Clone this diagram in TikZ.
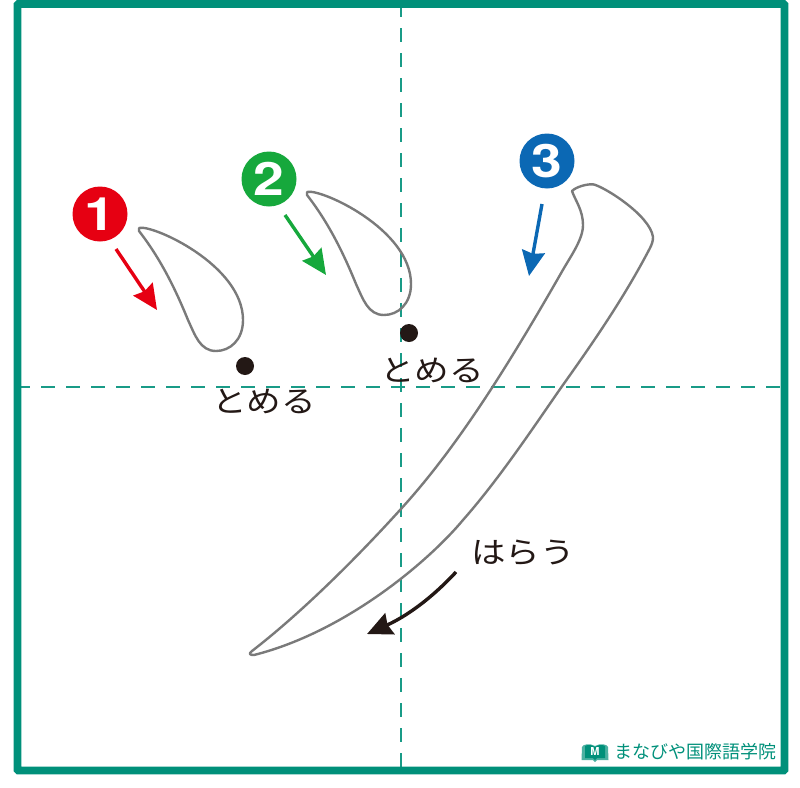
\documentclass[tikz,border=0pt]{standalone}
\usepackage{fontspec}
\newfontfamily\jpfont{Noto Sans CJK JP}
\newfontfamily\numfont{TeX Gyre Heros}
\definecolor{frameteal}{HTML}{00907A}
\definecolor{numred}{HTML}{E60012}
\definecolor{numgreen}{HTML}{16A83C}
\definecolor{numblue}{HTML}{0B68B4}
\definecolor{inkblack}{HTML}{231815}
\usetikzlibrary{arrows.meta,positioning}
\tikzstyle{guide}=[frameteal!90!white,line width=2.5pt,dash pattern=on 14pt off 11pt]
\tikzstyle{stroke}=[draw=black!52,line width=2.4pt,line join=round]
\tikzstyle{num}=[circle,minimum size=55pt,inner sep=0pt,text=white,font=\numfont\bfseries\fontsize{46}{46}\selectfont]
\tikzstyle{dot}=[circle,fill=inkblack,minimum size=18pt,inner sep=0pt]
\tikzstyle{word}=[text=inkblack,inner sep=0pt,font=\jpfont\fontsize{30}{30}\selectfont]
\tikzstyle{arrow}=[line width=3.4pt,-{Stealth[length=25pt,width=23pt,inset=2.5pt]}]

\begin{document}
\begin{tikzpicture}[x=1pt,y=-1pt]
    \useasboundingbox (0,0) rectangle (800,787);
    \coordinate (gl) at (16,387);
    \coordinate (gr) at (782,387);
    \coordinate (gt) at (401,3);
    \coordinate (gb) at (401,768);
    \draw[guide] (gl) -- (gr);
    \draw[guide] (gt) -- (gb);
    \draw[frameteal,line width=7.8pt,rounded corners=1pt] (17.5,3.9) rectangle (784.5,770.5);
    % the three strokes
    \draw[stroke] (139,228) .. controls (152,224) and (243,265) .. (243,320)
        .. controls (243,340) and (230,351) .. (216,351)
        .. controls (200,351) and (195,335) .. (188,320)
        .. controls (175,288) and (160,258) .. (139,231) -- cycle;
    \draw[stroke,shift={(168,-36)}] (139,228) .. controls (152,224) and (243,265) .. (243,320)
        .. controls (243,340) and (230,351) .. (216,351)
        .. controls (200,351) and (195,335) .. (188,320)
        .. controls (175,288) and (160,258) .. (139,231) -- cycle;
    \draw[stroke] (572,191) .. controls (576,187) and (586,184) .. (593,184.3)
        .. controls (603,186) and (650,215) .. (653,237)
        .. controls (653,241) and (652,244) .. (650,248)
        .. controls (625,296) and (595,340) .. (561.5,387)
        .. controls (535,425) and (500,478) .. (463,520)
        .. controls (428,562) and (345,632) .. (254,655)
        .. controls (250,655) and (248,654) .. (252,651)
        .. controls (305,610) and (362,552) .. (400,510)
        .. controls (455,450) and (505,371) .. (560,275)
        .. controls (570,257) and (583,240) .. (583,225)
        .. controls (583,210) and (575,200) .. (572,191) -- cycle;
    % numbers
    \node (n1) at (100,214) [num,fill=numred] {\scalebox{1.2}[1]{1}};
    \node (n2) at (269,179) [num,fill=numgreen] {\scalebox{1.2}[1]{2}};
    \node (n3) at (547,161) [num,fill=numblue] {\scalebox{1.2}[1]{3}};
    % arrows
    \coordinate (a1s) at (116,249);
    \coordinate (a1e) at (157,310);
    \coordinate (a2s) at (285,215);
    \coordinate (a2e) at (326,275);
    \coordinate (a3s) at (542,204);
    \coordinate (a3e) at (529,276);
    \coordinate (a4s) at (456,572);
    \coordinate (a4e) at (367,634);
    \path[arrow]
        (a1s) edge[numred] (a1e)
        (a2s) edge[numgreen] (a2e)
        (a3s) edge[numblue] (a3e);
    \draw[arrow,inkblack] (a4s) .. controls (430,600) and (405,617) .. (a4e);
    % stops and labels
    \node (d1) at (245,366) [dot] {};
    \node (d2) at (409,333) [dot] {};
    \node (t1) at (264,401) [word] {\scalebox{1.15}[1]{とめる}};
    \node (t2) at (432,370) [word] {\scalebox{1.15}[1]{とめる}};
    \node (t3) at (523,553) [word] {\scalebox{1.15}[1]{はらう}};
    % logo
    \fill[frameteal!70] (582,747) .. controls (583,744) and (590,743) .. (595,746)
        .. controls (600,743) and (607,744) .. (608,747) -- (608.5,760) -- (597,760) -- (595,762) -- (593,760) -- (581.5,760) -- cycle;
    \fill[frameteal] (585,746) .. controls (588,744) and (592,745) .. (595,747)
        .. controls (598,745) and (602,744) .. (605,746) -- (605,758) -- (597,758) -- (595,760) -- (593,758) -- (585,758) -- cycle;
    \node (logom) at (595,751.5) [text=white,inner sep=0pt,font=\numfont\bfseries\fontsize{11}{11}\selectfont] {M};
    \node (logo) at (695.8,752) [text=frameteal,inner sep=0pt,font=\jpfont\fontsize{18}{18}\selectfont] {まなびや国際語学院};
\end{tikzpicture}
\end{document}
